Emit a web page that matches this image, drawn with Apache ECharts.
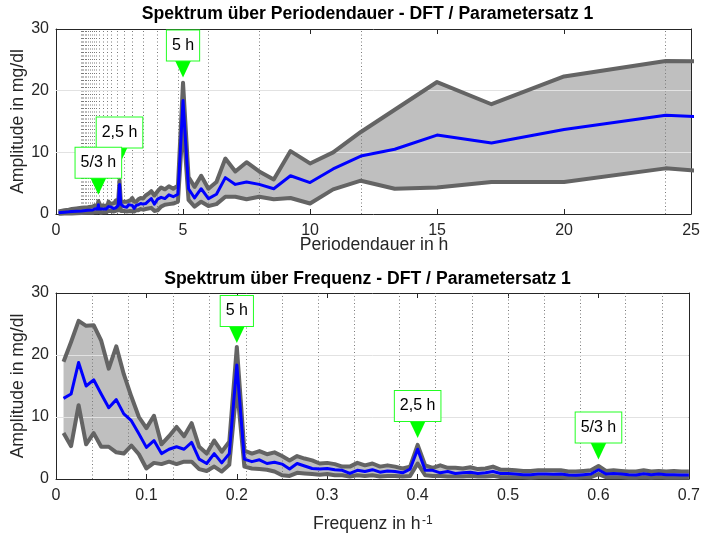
<!DOCTYPE html>
<html><head><meta charset="utf-8">
<script src="https://cdn.jsdelivr.net/npm/echarts@6/dist/echarts.min.js"></script>
<style>html,body{margin:0;padding:0;background:#fff}#c{width:703px;height:535px}</style>
</head><body><div id="c"></div>
<script>
// DFT bins k = 1..84, frequency k * freqStep (h^-1)
const freqStep = 1 / 120;
const upperVals = [18.9,22.1,25.5,24.7,24.8,22.3,17.8,21.4,16.9,13.3,
  10.0,8.2,10.2,5.6,6.9,8.4,6.9,9.0,5.2,4.1,
  6.2,4.4,6.0,21.3,4.6,4.1,4.5,4.0,4.3,3.7,
  3.0,3.7,3.3,3.0,2.5,2.6,2.4,2.0,2.0,2.6,
  2.2,2.5,2.0,2.2,2.0,1.7,2.0,5.5,2.2,1.8,
  2.2,1.8,1.8,1.7,1.9,1.6,1.7,2.0,1.5,1.5,
  1.4,1.3,1.3,1.4,1.4,1.4,1.4,1.2,1.2,1.3,
  1.4,2.1,1.3,1.4,1.3,1.2,1.2,1.4,1.2,1.3,
  1.2,1.3,1.2,1.2];
const meanVals = [13.0,13.7,18.8,15.0,16.0,13.7,11.5,12.8,10.5,9.4,
  7.3,5.1,6.2,4.1,4.8,5.2,4.8,5.9,3.2,2.5,
  4.1,2.6,4.1,18.4,3.2,2.8,3.1,2.5,2.7,2.4,
  1.6,2.5,2.1,1.7,1.6,1.7,1.5,1.4,0.9,1.4,
  1.2,1.5,1.1,1.3,1.2,1.0,1.6,4.8,1.4,1.4,
  1.0,1.2,0.9,1.0,1.1,0.9,1.0,1.2,0.9,0.9,
  0.8,0.7,0.7,0.8,0.8,0.75,0.8,0.65,0.6,0.7,
  0.8,1.5,0.8,0.9,0.8,0.7,0.65,0.85,0.7,0.8,
  0.7,0.7,0.65,0.65];
const lowerVals = [7.4,5.3,11.9,5.6,7.4,5.2,5.2,4.3,4.1,5.4,
  4.0,1.7,2.6,2.4,2.8,2.4,2.8,2.8,1.6,1.3,
  2.0,1.2,2.3,15.0,2.0,1.7,1.6,1.5,1.2,0.6,
  0.5,1.0,0.9,0.8,0.7,0.8,0.6,0.6,0.4,0.6,
  0.5,0.6,0.4,0.5,0.5,0.4,0.5,2.5,0.6,0.5,
  0.5,0.4,0.4,0.4,0.5,0.4,0.4,0.5,0.3,0.3,
  0.3,0.3,0.2,0.3,0.3,0.3,0.3,0.2,0.2,0.3,
  0.3,0.8,0.3,0.3,0.3,0.2,0.2,0.3,0.2,0.3,
  0.2,0.2,0.2,0.2];
// high-frequency tail (only visible in the period plot, near 0 h)
const tailFreqs = [0.8,1.0,1.25,1.6,2.0,3.0,5.0,10.0];
const tailUpper = [1.1,1.0,0.9,0.8,0.7,0.6,0.5,0.4];
const tailMean  = [0.6,0.5,0.45,0.4,0.35,0.3,0.25,0.2];
const tailLower = [0.2,0.15,0.12,0.1,0.1,0.08,0.05,0.03];

const peakPeriods = [5, 2.5, 5/3];
const peakFreqs = [0.2, 0.4, 0.6];
const peakLabels = ['5 h', '2,5 h', '5/3 h'];
const topMarkerY = [23.5, 9.4, 4.5];
const bottomMarkerY = [23.3, 8.0, 4.5];

const yTicks = [0, 10, 20, 30];
const periodTicks = [0, 5, 10, 15, 20, 25];
const freqTicks = [0, 0.1, 0.2, 0.3, 0.4, 0.5, 0.6, 0.7];
const hGrid = [10, 20];
const baseHours = 24;              // dotted lines: harmonics of 24 h
const periodGridCount = 24;
const freqGridCount = 16;

const FONT = '"Liberation Sans", Arial, Helvetica, sans-serif';
const AX = '#262626';

const freqs = upperVals.map((_, i) => (i + 1) * freqStep);
const allF = freqs.concat(tailFreqs);
const allU = upperVals.concat(tailUpper);
const allM = meanVals.concat(tailMean);
const allL = lowerVals.concat(tailLower);
const periods = allF.map(f => 1 / f);

const periodGrid = [], freqGrid = [];
for (let k = 1; k <= periodGridCount; k++) periodGrid.push(baseHours / k);
for (let k = 1; k <= freqGridCount; k++) freqGrid.push(k / baseHours);

function axisPair(gi, ticks, isX) {
  const min = ticks[0], max = ticks[ticks.length - 1], interval = ticks[1] - ticks[0];
  const base = {
    gridIndex: gi, type: 'value', min, max, interval,
    axisLine: {show: true, onZero: false, lineStyle: {color: AX, width: 1}},
    axisTick: {show: true, inside: true, length: 5, lineStyle: {color: AX}},
    splitLine: {show: false}
  };
  const a = Object.assign({}, base, {
    position: isX ? 'bottom' : 'left',
    axisLabel: {show: true, fontSize: 16, color: AX, fontFamily: FONT, margin: isX ? 9 : 7}
  });
  const b = Object.assign({}, base, {
    position: isX ? 'top' : 'right',
    axisLabel: {show: false}
  });
  return [a, b];
}

function buildSeries(gi, xs, up, mean, low, vGrid, markX, markY) {
  const xi = gi * 2, yi = gi * 2;
  const common = {type: 'line', xAxisIndex: xi, yAxisIndex: yi, symbol: 'none', animation: false, silent: true};
  return [
    {
      type: 'custom', xAxisIndex: xi, yAxisIndex: yi, z: 1, animation: false, silent: true,
      encode: {x: 0, y: 1},
      data: [[0, 0]],
      renderItem: function (params, api) {
        const pts = [];
        for (let i = 0; i < xs.length; i++) pts.push(api.coord([xs[i], up[i]]));
        for (let i = xs.length - 1; i >= 0; i--) pts.push(api.coord([xs[i], low[i]]));
        const cs = params.coordSys;
        return {
          type: 'group',
          clipPath: {type: 'rect', shape: {x: cs.x, y: cs.y, width: cs.width, height: cs.height}},
          children: [{type: 'polygon', shape: {points: pts}, style: {fill: '#bfbfbf', stroke: null}}]
        };
      }
    },
    Object.assign({}, common, {
      name: 'gridlines' + gi, z: 2,
      data: [],
      lineStyle: {width: 0, opacity: 0},
      markLine: {
        silent: true, symbol: ['none', 'none'], animation: false, z: 2,
        label: {show: false},
        data: vGrid.map(v => ({xAxis: v, lineStyle: {type: [1, 2.5], color: '#7a7a7a', width: 1}}))
          .concat(hGrid.map(v => ({yAxis: v, lineStyle: {type: 'solid', color: '#e2e2e2', width: 1}})))
      }
    }),
    Object.assign({}, common, {
      name: 'upper' + gi, z: 3,
      data: xs.map((x, i) => [x, up[i]]),
      lineStyle: {color: '#646464', width: 4, join: 'round'}
    }),
    Object.assign({}, common, {
      name: 'lower' + gi, z: 3,
      data: xs.map((x, i) => [x, low[i]]),
      lineStyle: {color: '#646464', width: 4, join: 'round'}
    }),
    Object.assign({}, common, {
      name: 'mean' + gi, z: 4,
      data: xs.map((x, i) => [x, mean[i]]),
      lineStyle: {color: '#0000ff', width: 3, join: 'round'}
    }),
    {
      type: 'custom', xAxisIndex: xi, yAxisIndex: yi, z: 6, animation: false, silent: true,
      encode: {x: 0, y: 1},
      data: markX.map((x, i) => [x, markY[i], i]),
      renderItem: function (params, api) {
        const c = api.coord([api.value(0), api.value(1)]);
        const idx = api.value(2);
        return {
          type: 'group',
          children: [
            {type: 'polygon', shape: {points: [[c[0] - 8, c[1] - 8.5], [c[0] + 8, c[1] - 8.5], [c[0], c[1] + 8.5]]},
             style: {fill: '#00ff00', stroke: null}},
            {type: 'text', style: {
              text: peakLabels[idx], x: c[0], y: c[1] - 8.5, align: 'center', verticalAlign: 'bottom',
              font: '16px ' + FONT, fill: '#000', backgroundColor: '#fff',
              borderColor: '#22ff22', borderWidth: 1, padding: [6, 5, 6, 5], lineHeight: 18
            }}
          ]
        };
      }
    }
  ];
}

const topX = axisPair(0, periodTicks, true);
const botX = axisPair(1, freqTicks, true);
const topY = axisPair(0, yTicks, false);
const botY = axisPair(1, yTicks, false);

const chart = echarts.init(document.getElementById('c'), null, {renderer: 'canvas'});
chart.setOption({
  backgroundColor: '#fff',
  animation: false,
  grid: [
    {left: 56, top: 29, width: 636, height: 185},
    {left: 56, top: 293, width: 636, height: 186}
  ],
  xAxis: [topX[0], topX[1], botX[0], botX[1]],
  yAxis: [topY[0], topY[1], botY[0], botY[1]],
  series: [].concat(
    buildSeries(0, periods, allU, allM, allL, periodGrid, peakPeriods, topMarkerY),
    buildSeries(1, freqs, upperVals, meanVals, lowerVals, freqGrid, peakFreqs, bottomMarkerY)
  ),
  graphic: [
    {type: 'text', x: 367.5, y: 14.5, style: {text: 'Spektrum über Periodendauer - DFT / Parametersatz 1', font: 'bold 17.6px ' + FONT, fill: '#000', align: 'center', verticalAlign: 'middle'}},
    {type: 'text', x: 367.5, y: 279, style: {text: 'Spektrum über Frequenz - DFT / Parametersatz 1', font: 'bold 17.6px ' + FONT, fill: '#000', align: 'center', verticalAlign: 'middle'}},
    {type: 'text', x: 18.5, y: 121.5, rotation: Math.PI / 2, style: {text: 'Amplitude in mg/dl', font: '17.6px ' + FONT, fill: AX, align: 'center', verticalAlign: 'middle'}},
    {type: 'text', x: 18.5, y: 386, rotation: Math.PI / 2, style: {text: 'Amplitude in mg/dl', font: '17.6px ' + FONT, fill: AX, align: 'center', verticalAlign: 'middle'}},
    {type: 'text', x: 374, y: 245, style: {text: 'Periodendauer in h', font: '17.6px ' + FONT, fill: AX, align: 'center', verticalAlign: 'middle'}},
    {type: 'text', x: 420.5, y: 524.5, style: {text: 'Frequenz in h', font: '17.6px ' + FONT, fill: AX, align: 'right', verticalAlign: 'middle'}},
    {type: 'text', x: 422, y: 521, style: {text: '-1', font: '12px ' + FONT, fill: AX, align: 'left', verticalAlign: 'middle'}}
  ]
});
</script></body></html>
